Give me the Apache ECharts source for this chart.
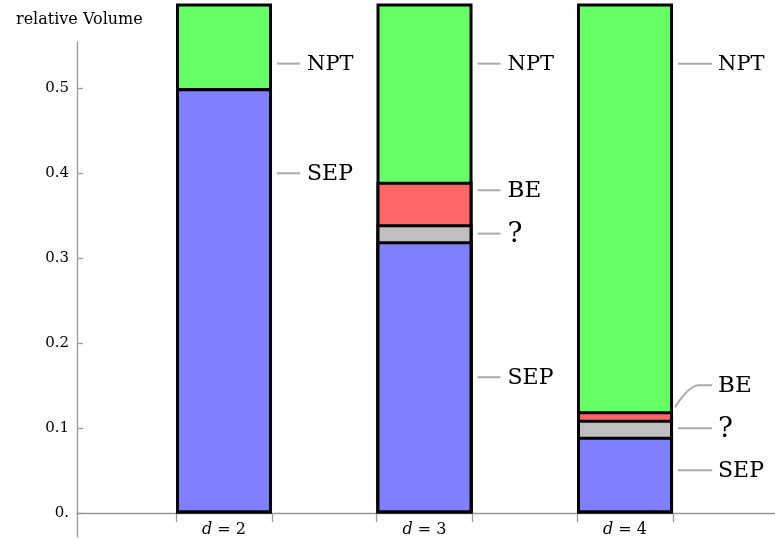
<!DOCTYPE html>
<html>
<head>
<meta charset="utf-8">
<script src="https://cdn.jsdelivr.net/npm/echarts@6/dist/echarts.min.js"></script>
<style>html,body{margin:0;padding:0;background:#fff}#c{width:775px;height:540px}</style>
</head>
<body>
<div id="c"></div>
<script>
// ---- data ----
const categories = [2, 3, 4];
const sepValues = [0.5, 0.32, 0.09];
const unknownValues = [0, 0.02, 0.02];
const beValues = [0, 0.05, 0.01];
const nptValues = [0.5, 0.61, 0.88];
const yTickValues = [0, 0.1, 0.2, 0.3, 0.4, 0.5];
// annotation labels: category, label height, optional anchor height
const annotationCats = [2, 2, 3, 3, 3, 3, 4, 4, 4, 4];
const annotationTexts = ['NPT', 'SEP', 'NPT', 'BE', '?', 'SEP', 'NPT', 'BE', '?', 'SEP'];
const annotationY = [0.529, 0.4, 0.529, 0.38, 0.329, 0.16, 0.529, 0.1506, 0.1, 0.0506];
const annotationAnchor = [null, null, null, null, null, null, null, 0.1247, null, null];

const FONT = 'DejaVu Serif';
const fontSizes = { 'NPT': 21, 'SEP': 22, 'BE': 23, '?': 28 };
const BAR_W = 96;
const X_MIN = 1.2668, X_MAX = 4.748;
const unitPx = 698 / (X_MAX - X_MIN);
const halfBar = (BAR_W / 2) / unitPx;
const edgeTicks = categories.flatMap(c => [c - halfBar, c + halfBar]);

// cumulative tops of each stacked segment
const layers = [sepValues, unknownValues, beValues, nptValues];
const cumTops = layers.map((_, li) => categories.map((c, i) => {
  let s = 0;
  for (let k = 0; k <= li; k++) s += layers[k][i];
  return s;
}));

function barSeries(name, tops, color) {
  return {
    type: 'bar', name, barWidth: BAR_W, barGap: '-100%', clip: true,
    xAxisIndex: 0, yAxisIndex: 0,
    itemStyle: { color, borderColor: '#000', borderWidth: 3 },
    data: categories.map((c, i) => [c, tops[i]]),
    silent: true
  };
}

const annData = annotationCats.map((c, i) => [c, annotationY[i], annotationAnchor[i] == null ? annotationY[i] : annotationAnchor[i], i]);

const chart = echarts.init(document.getElementById('c'), null, { renderer: 'canvas' });
chart.setOption({
  animation: false,
  title: {
    text: 'relative Volume', left: 11, top: 7,
    textStyle: { fontFamily: FONT, fontSize: 16, fontWeight: 'normal', color: '#000' }
  },
  grid: [
    { left: 77, right: 0, top: 5, bottom: 3, outerBoundsMode: 'none', containLabel: false },
    { left: 77, right: 0, top: 42, bottom: 3, outerBoundsMode: 'none', containLabel: false }
  ],
  xAxis: [
    {
      type: 'value', gridIndex: 0, min: X_MIN, max: X_MAX,
      axisLine: { show: true, onZero: true, lineStyle: { color: '#999', width: 1.3 } },
      axisTick: { show: true, customValues: edgeTicks, length: 9, lineStyle: { color: '#999', width: 1.3 } },
      axisLabel: {
        customValues: categories, margin: -15, color: '#000',
        fontFamily: FONT, fontSize: 16,
        formatter: v => '{i|d} = ' + v,
        rich: { i: { fontStyle: 'italic', fontFamily: FONT, fontSize: 16 } }
      },
      splitLine: { show: false }
    },
    { type: 'value', gridIndex: 1, min: 0, max: 1, show: false }
  ],
  yAxis: [
    {
      type: 'value', gridIndex: 0, min: -0.028, max: 0.598,
      axisLine: { show: false },
      axisTick: { show: true, inside: true, customValues: yTickValues, length: 6, lineStyle: { color: '#999', width: 1.3 } },
      axisLabel: {
        customValues: yTickValues, margin: 8, color: '#000',
        fontFamily: FONT, fontSize: 15,
        formatter: v => v === 0 ? '0.' : v.toFixed(1)
      },
      splitLine: { show: false }
    },
    {
      type: 'value', gridIndex: 1, min: 0, max: 1,
      axisLine: { show: true, onZero: false, lineStyle: { color: '#999', width: 1.3 } },
      axisTick: { show: false }, axisLabel: { show: false }, splitLine: { show: false }
    }
  ],
  series: [
    barSeries('NPT', cumTops[3], '#66FF66'),
    barSeries('BE', cumTops[2], '#FF6666'),
    barSeries('?', cumTops[1], '#BFBFBF'),
    barSeries('SEP', cumTops[0], '#8080FF'),
    {
      type: 'custom', xAxisIndex: 0, yAxisIndex: 0, clip: false, silent: true, z: 10,
      data: annData,
      renderItem: function (params, api) {
        const idx = api.value(3);
        const txt = annotationTexts[idx];
        const p = api.coord([api.value(0), api.value(1)]);
        const a = api.coord([api.value(0), api.value(2)]);
        const right = p[0] + BAR_W / 2;
        const wide = api.value(0) === 4;
        const lineEnd = right + (wide ? 39 : 28);
        const textX = right + (wide ? 45 : 35);
        const children = [];
        if (Math.abs(a[1] - p[1]) > 1) {
          children.push({
            type: 'bezierCurve',
            shape: { x1: right + 2, y1: a[1], x2: right + 26, y2: p[1], cpx1: right + 16, cpy1: p[1] },
            style: { stroke: '#aaa', lineWidth: 2, fill: null }
          });
          children.push({
            type: 'line',
            shape: { x1: right + 26, y1: p[1], x2: lineEnd, y2: p[1] },
            style: { stroke: '#aaa', lineWidth: 2 }
          });
        } else {
          children.push({
            type: 'line',
            shape: { x1: right + 5, y1: p[1], x2: lineEnd, y2: p[1] },
            style: { stroke: '#aaa', lineWidth: 2 }
          });
        }
        children.push({
          type: 'text',
          style: {
            text: txt, x: textX, y: p[1] + 1, verticalAlign: 'middle', align: 'left',
            fontFamily: FONT, fontSize: fontSizes[txt], fill: '#000'
          }
        });
        return { type: 'group', children };
      }
    }
  ]
});
</script>
</body>
</html>
